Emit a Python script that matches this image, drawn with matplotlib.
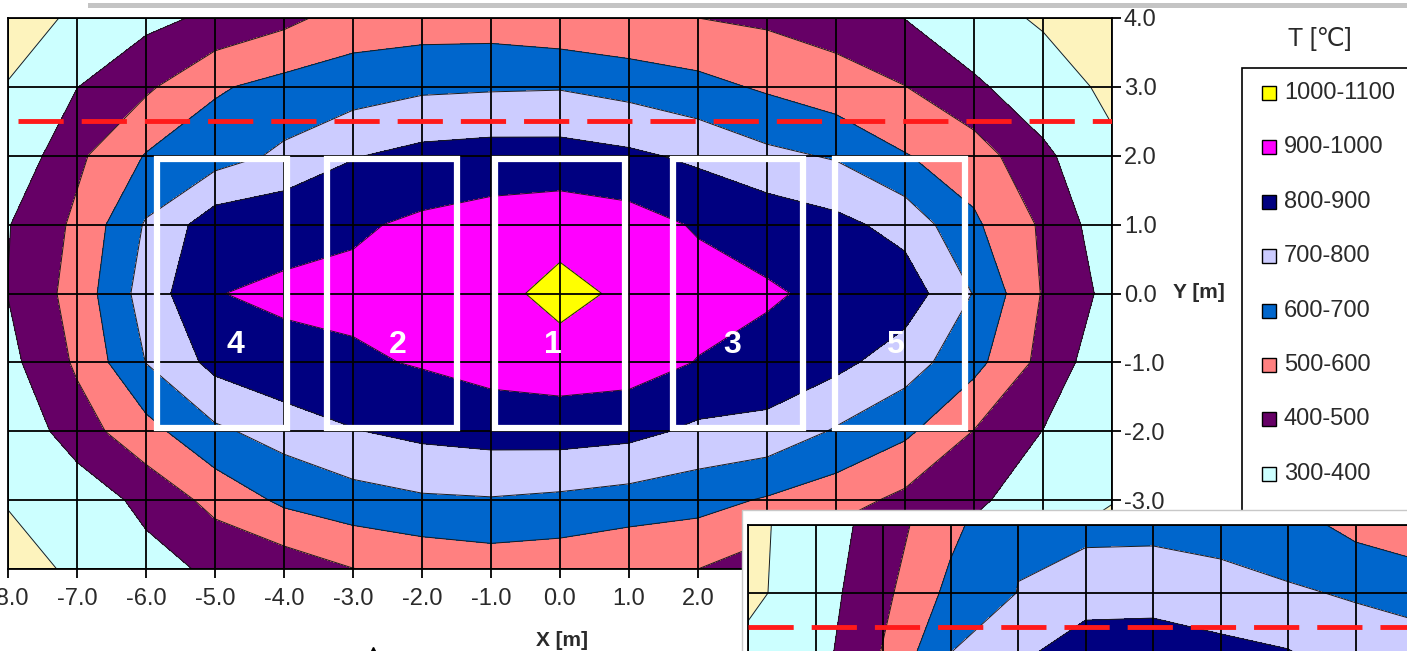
import numpy as np
import matplotlib.pyplot as plt
from matplotlib.patches import Rectangle
from matplotlib.lines import Line2D

plt.rcParams['font.family'] = ['Liberation Sans', 'DejaVu Sans']

# temperature on the 1 m grid, rows from Y=4 down to Y=-4, columns X=-8..8
x_nodes = np.arange(-8, 9)
y_nodes = np.arange(4, -5, -1)
T_rows = [
    [272, 310, 372, 420, 473, 546, 548, 548, 524, 505, 500, 482, 458, 398, 330, 290, 260],
    [303, 398, 483, 588, 632, 652, 682, 689, 693, 666, 630, 586, 540, 502, 417, 340, 282],
    [320, 480, 606, 656, 719, 794, 829, 841, 840, 818, 780, 723, 690, 605, 549, 420, 315],
    [395, 520, 710, 856, 878, 886, 918, 941, 958, 942, 890, 865, 827, 765, 616, 485, 330],
    [402, 540, 745, 898, 911, 925, 940, 965, 1035, 977, 940, 910, 880, 855, 695, 492, 368],
    [371, 515, 702, 829, 881, 885, 908, 938, 954, 946, 896, 873, 827, 747, 631, 470, 321],
    [315, 455, 565, 682, 740, 795, 825, 840, 844, 829, 780, 766, 690, 620, 497, 398, 310],
    [302, 333, 430, 530, 620, 659, 686, 693, 680, 660, 635, 590, 542, 475, 420, 340, 302],
    [288, 305, 360, 420, 440, 498, 524, 545, 535, 506, 500, 440, 410, 400, 330, 285, 270],
]

# second case, upper left part only (X=-8..2, Y=4..1)
inset_x = np.arange(-8, 3)
inset_y = np.arange(4, 0, -1)
inset_rows = [
    [281, 336, 450, 575, 690, 680, 680, 665, 640, 570, 520],
    [279, 350, 476, 625, 702, 740, 745, 735, 712, 690, 670],
    [330, 363, 510, 710, 790, 890, 894, 843, 819, 760, 740],
    [360, 400, 560, 770, 860, 950, 960, 920, 880, 820, 790],
]

levels = [200, 300, 400, 500, 600, 700, 800, 900, 1000, 1100]
band_colors = ['#FDF3BD', '#CCFFFF', '#660066', '#FF8080', '#0066CC',
               '#CCCCFF', '#000080', '#FF00FF', '#FFFF00']
band_labels = ['%d-%d' % (levels[i], levels[i + 1]) for i in range(len(levels) - 1)]

# measuring zones
box_centers = [-4.9, -2.43, 0.0, 2.58, 4.93]
box_names = ['4', '2', '1', '3', '5']
box_label_x = [-4.7, -2.35, -0.1, 2.5, 4.85]
box_width = 1.88
box_y = (-1.95, 1.95)
section_y = 2.5

x_ticks = list(range(-8, 9))
y_ticks = list(range(-4, 5))

W, H = 1407, 651
txt = '#2a2a2a'


def fx(px):
    return px / W


def fy(py):
    return 1 - py / H


def draw_field(ax, xs, ys, rows):
    T = np.array(rows, dtype=float)[::-1]
    ys = ys[::-1]
    ax.contourf(xs, ys, T, levels=levels, colors=band_colors, zorder=1)
    ax.contour(xs, ys, T, levels=levels[1:-1], colors='#1a1a1a',
               linewidths=0.7, zorder=2)
    ax.set_xticks(x_ticks)
    ax.set_yticks(y_ticks)
    ax.grid(True, color='black', lw=1.3)
    ax.set_axisbelow(False)
    for s in ax.spines.values():
        s.set_color('black')
        s.set_linewidth(1.3)


fig = plt.figure(figsize=(W / 100, H / 100), dpi=100)

ax = fig.add_axes([fx(8), fy(569), (1112 - 8) / W, (569 - 18) / H])
draw_field(ax, x_nodes, y_nodes, T_rows)
ax.set_xlim(-8, 8)
ax.set_ylim(-4, 4)
ax.yaxis.tick_right()
ax.set_xticklabels(['%.1f' % v for v in x_ticks])
ax.set_yticklabels(['%.1f' % v for v in y_ticks])
ax.tick_params(direction='out', length=6.5, width=1.3, color='black',
               labelsize=17, labelcolor=txt)
ax.tick_params(axis='x', pad=7)
ax.tick_params(axis='y', pad=2)

for cx, name, lx in zip(box_centers, box_names, box_label_x):
    ax.add_patch(Rectangle((cx - box_width / 2, box_y[0]), box_width,
                           box_y[1] - box_y[0], fill=False, ec='white',
                           lw=4.5, zorder=4))
    ax.text(lx, -0.75, name, color='white', fontsize=23, fontweight='bold',
            ha='center', va='center', zorder=5)

ax.hlines(section_y, -7.85, 8, colors='#FF1A1A', lw=3.5,
          linestyles=(0, (9.3, 3.7)), zorder=5)

fig.text(fx(562), fy(640), 'X [m]', fontsize=15, fontweight='bold',
         color=txt, ha='center', va='center')
fig.text(fx(1173), fy(293), 'Y [m]', fontsize=15, fontweight='bold',
         color=txt, ha='left', va='center')

# legend block, hottest band on top
fig.add_artist(Rectangle((fx(1242), fy(600)), (1440 - 1242) / W, (600 - 68) / H,
                         transform=fig.transFigure, fc='white', ec='black',
                         lw=1.2, zorder=3))
for i, (lab, col) in enumerate(zip(band_labels[::-1], band_colors[::-1])):
    row = 93 + 54.4 * i
    fig.add_artist(Rectangle((fx(1262), fy(row + 7)), 14 / W, 14 / H,
                             transform=fig.transFigure, fc=col, ec='black',
                             lw=1, zorder=4))
    fig.text(fx(1284), fy(row), lab, fontsize=17, color=txt,
             ha='left', va='center', zorder=4)
fig.text(fx(1320), fy(39), 'T [℃]', fontsize=18, color=txt,
         ha='center', va='center')

# second case pasted over the lower right corner
fig.add_artist(Rectangle((fx(742), fy(700)), (1420 - 742) / W, (700 - 510) / H,
                         transform=fig.transFigure, fc='white', ec='#c8c8c8',
                         lw=1, zorder=6))
ins = fig.add_axes([fx(748), fy(525 + 3 * 68), 10 * 67.5 / W, 3 * 68 / H], zorder=7)
draw_field(ins, inset_x, inset_y, inset_rows)
ins.set_xlim(-8, 2)
ins.set_ylim(1, 4)
ins.tick_params(length=0, labelbottom=False, labelleft=False)
ins.hlines(section_y, -8, 2, colors='#FF1A1A', lw=3.5,
           linestyles=(0, (9.3, 3.7)), zorder=5)

fig.add_artist(Rectangle((fx(88), fy(8)), (W - 88) / W, 5 / H,
                         transform=fig.transFigure, fc='#c4c4c4', ec='none',
                         zorder=10))
fig.add_artist(Line2D([fx(373)], [fy(653)], marker='^', ms=9, color='black',
                      transform=fig.transFigure, zorder=10))

fig.savefig('out.png', dpi=100)
